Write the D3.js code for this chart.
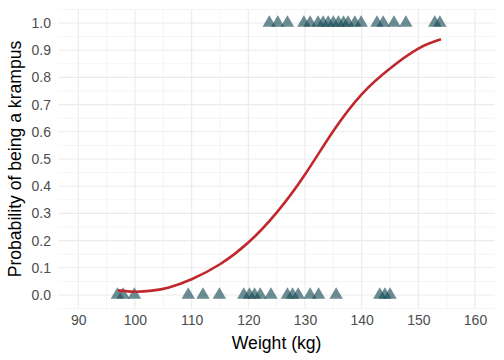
<!DOCTYPE html>
<html><head><meta charset="utf-8">
<script src="https://cdn.jsdelivr.net/npm/d3@7"></script>
<style>body{margin:0;background:#fff}svg{display:block}text{font-family:"Liberation Sans",Arial,sans-serif}</style>
</head><body><svg id="c" width="504" height="360"></svg>
<script>
// Observations: weight (kg) of non-krampus (0) and krampus (1)
const weights0 = [96.9, 97.9, 99.9, 109.4, 112.0, 114.9, 119.2, 120.2, 121.1, 122.1, 124.0, 126.9, 127.8, 128.8, 130.9, 132.4, 135.5, 143.2, 144.1, 145.0];
const weights1 = [123.7, 125.2, 126.9, 129.8, 130.9, 132.3, 133.2, 134.1, 135.0, 135.9, 136.8, 137.6, 138.8, 139.9, 142.7, 143.8, 145.7, 147.8, 152.9, 153.8];
// Fitted probability curve
const curveWeight = [97, 100, 103, 106, 110, 115, 120, 125, 130, 135, 140, 145, 150, 154];
const curveProb   = [0.017, 0.012, 0.016, 0.028, 0.058, 0.113, 0.193, 0.303, 0.443, 0.603, 0.738, 0.833, 0.906, 0.94];
const xTicks = [90, 100, 110, 120, 130, 140, 150, 160];
const yTicks = [0, 0.1, 0.2, 0.3, 0.4, 0.5, 0.6, 0.7, 0.8, 0.9, 1.0];

const svg = d3.select("#c");
const x = d3.scaleLinear().domain([90, 160]).range([78.3, 475]);
const y = d3.scaleLinear().domain([0, 1]).range([295, 23]);
const pL = x(86.5), pR = x(163.5), pT = y(1.05), pB = y(-0.05);

const g = svg.append("g");
// minor grid
const xMinor = d3.range(85, 166, 10).filter(v => x(v) >= pL && x(v) <= pR);
const yMinor = d3.range(-0.05, 1.06, 0.1).map(v => +v.toFixed(2)).filter(v => y(v) <= pB && y(v) >= pT);
g.selectAll(".xm").data(xMinor).join("line").attr("x1", d => x(d)).attr("x2", d => x(d)).attr("y1", pT).attr("y2", pB).attr("stroke", "#ebebeb").attr("stroke-width", 0.55);
g.selectAll(".ym").data(yMinor).join("line").attr("y1", d => y(d)).attr("y2", d => y(d)).attr("x1", pL).attr("x2", pR).attr("stroke", "#ebebeb").attr("stroke-width", 0.55);
// major grid
g.selectAll(".xM").data(xTicks).join("line").attr("x1", d => x(d)).attr("x2", d => x(d)).attr("y1", pT).attr("y2", pB).attr("stroke", "#ebebeb").attr("stroke-width", 1.1);
g.selectAll(".yM").data(yTicks).join("line").attr("y1", d => y(d)).attr("y2", d => y(d)).attr("x1", pL).attr("x2", pR).attr("stroke", "#ebebeb").attr("stroke-width", 1.1);

// axes (text only)
const xAxis = d3.axisBottom(x).tickValues(xTicks).tickSize(0).tickPadding(0).tickFormat(d3.format("d"));
const ax = svg.append("g").attr("transform", `translate(0,${pB + 3})`).call(xAxis);
ax.select(".domain").remove();
ax.selectAll("text").attr("fill", "#4d4d4d").attr("font-size", 14).attr("dy", "0.71em").attr("y", 3);
const yAxis = d3.axisLeft(y).tickValues(yTicks).tickSize(0).tickPadding(0).tickFormat(d3.format(".1f"));
const ay = svg.append("g").attr("transform", `translate(${51},0)`).call(yAxis);
ay.select(".domain").remove();
ay.selectAll("text").attr("fill", "#4d4d4d").attr("font-size", 14);

// triangles
const tri = d3.symbol().type(d3.symbolTriangle).size(78);
const pts = weights0.map(w => ({w, v: 0})).concat(weights1.map(w => ({w, v: 1})));
svg.append("g").selectAll("path").data(pts).join("path")
  .attr("d", tri).attr("transform", d => `translate(${x(d.w)},${y(d.v)})`)
  .attr("fill", "#1b4f57").attr("fill-opacity", 0.65);

// curve
const line = d3.line().x((d, i) => x(curveWeight[i])).y(d => y(d)).curve(d3.curveNatural);
svg.append("path").attr("d", line(curveProb)).attr("fill", "none").attr("stroke", "#c0282d").attr("stroke-width", 2.6);

// titles
svg.append("text").attr("x", (pL + pR) / 2).attr("y", 349).attr("text-anchor", "middle").attr("font-size", 17.6).attr("fill", "#000").text("Weight (kg)");
svg.append("text").attr("transform", `translate(21,${(pT + pB) / 2}) rotate(-90)`).attr("text-anchor", "middle").attr("font-size", 17.6).attr("fill", "#000").text("Probability of being a krampus");
</script></body></html>
